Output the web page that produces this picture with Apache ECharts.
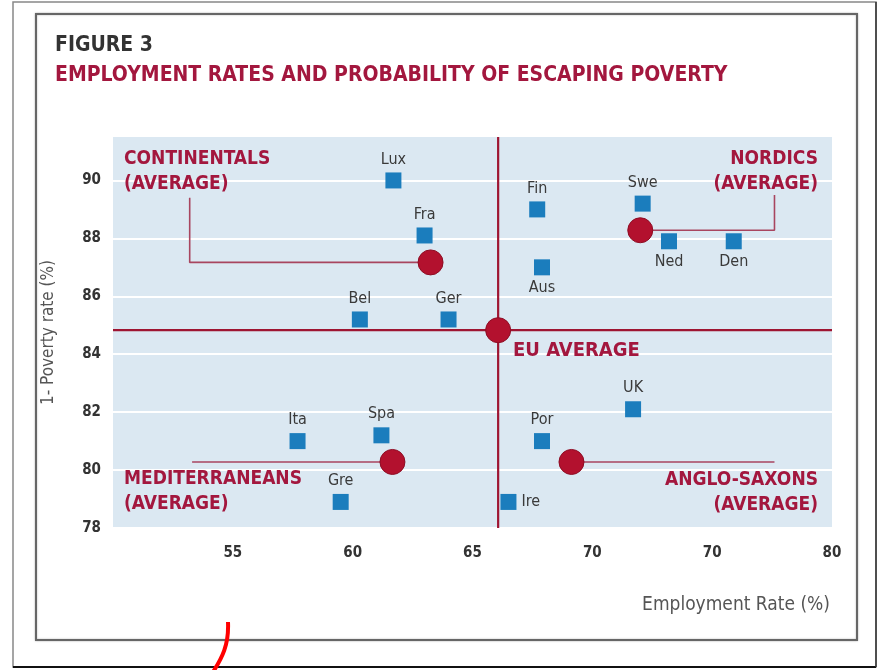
<!DOCTYPE html>
<html><head><meta charset="utf-8">
<script src="https://cdn.jsdelivr.net/npm/echarts@6/dist/echarts.min.js"></script>
<style>html,body{margin:0;padding:0;background:#fff}#c{width:883px;height:670px}</style>
</head><body><div id="c"></div>
<script>
// ---- data ----
const countries = ['Lux','Fra','Bel','Ger','Fin','Aus','Swe','Ned','Den','UK','Por','Ire','Ita','Spa','Gre'];
const employment = [61.7,63.0,60.3,64.0,67.7,67.9,72.1,73.2,75.9,71.7,67.9,66.5,57.7,61.2,59.5];
const povertyEscape = [90.0,88.1,85.2,85.2,89.0,87.0,89.2,87.9,87.9,82.1,81.0,78.9,81.0,81.2,78.9];
const groups = ['CONTINENTALS','NORDICS','MEDITERRANEANS','ANGLO-SAXONS'];
const groupEmployment = [63.25,72.0,61.66,69.13];
const groupPoverty = [87.17,88.28,80.28,80.28];
const euEmployment = 66.07;
const euPoverty = 84.83;
const xTickValues = [55,60,65,70,75,80];
const xTickLabels = ['55','60','65','70','70','80'];
const yTickLabels = ['78','80','82','84','86','88','90'];
// annotation connector elbows (data coords)
const connectorX = [53.2, 77.6, 53.3, 77.6];
const connectorTopY = [89.4, 89.5, null, null];

// ---- style ----
const labelPos = {Aus:'bottom', Ned:'bottom', Den:'bottom', Ire:'right'};
const RED = '#a3173e';
const FONT = '"DejaVu Sans Condensed", "DejaVu Sans", sans-serif';

const chart = echarts.init(document.getElementById('c'));

const countryData = countries.map((n,i)=>({
  name:n, value:[employment[i], povertyEscape[i]],
  label:{position: labelPos[n] || 'top'}
}));
const groupData = groups.map((g,i)=>({name:g, value:[groupEmployment[i], groupPoverty[i]]}));

const connectorSeries = groups.map((g,i)=>{
  const pts = [[groupEmployment[i], groupPoverty[i]],[connectorX[i], groupPoverty[i]]];
  if (connectorTopY[i] != null) pts.push([connectorX[i], connectorTopY[i]]);
  return {type:'line', data:pts, symbol:'none', silent:true, z:2,
    lineStyle:{color:'#a8455f', width:1.6}};
});

function gText(text, x, y, opts){
  return Object.assign({type:'text', x:x, y:y, z:100, silent:true, style:Object.assign({
    text:text, font:'bold 19px '+FONT, fill:RED, textAlign:'left', textVerticalAlign:'top', lineHeight:25
  }, opts||{})});
}

chart.setOption({
  animation:false,
  backgroundColor:'#fff',
  grid:{left:113, right:51, top:137, bottom:142, show:true, backgroundColor:'#dbe8f2', borderWidth:0},
  xAxis:{type:'value', min:50, max:80, interval:5,
    axisLine:{show:false}, axisTick:{show:false}, splitLine:{show:false},
    axisLabel:{margin:18, color:'#333', fontFamily:FONT, fontWeight:'bold', fontSize:15, showMinLabel:false,
      formatter:v=>{const k=xTickValues.indexOf(v); return k<0?'':xTickLabels[k];}}
  },
  yAxis:{type:'value', min:78, max:91.5, interval:2,
    name:'1- Poverty rate (%)', nameLocation:'middle', nameGap:56,
    nameTextStyle:{color:'#555', fontFamily:FONT, fontSize:17},
    axisLine:{show:false}, axisTick:{show:false},
    splitLine:{show:true, showMaxLine:false, lineStyle:{color:'#ffffff', width:2}},
    axisLabel:{margin:12, color:'#333', fontFamily:FONT, fontWeight:'bold', fontSize:15, showMaxLabel:false,
      formatter:v=>{const k=(v-78)/2; return Number.isInteger(k)&&yTickLabels[k]?yTickLabels[k]:'';}}
  },
  series:[
    {type:'line', data:[[50,euPoverty],[80,euPoverty]], symbol:'none', silent:true, z:3,
      lineStyle:{color:'#9e1532', width:2.2}},
    {type:'line', data:[[euEmployment,78],[euEmployment,91.5]], symbol:'none', silent:true, z:3,
      lineStyle:{color:'#9e1532', width:2.2}},
    ...connectorSeries,
    {type:'scatter', data:countryData, symbol:'rect', symbolSize:16, z:5,
      itemStyle:{color:'#1b7dbd', opacity:1},
      label:{show:true, formatter:'{b}', color:'#3a3a3a', fontFamily:FONT, fontSize:16, distance:5}},
    {type:'scatter', data:groupData, symbol:'circle', symbolSize:25, z:6,
      itemStyle:{color:'#b3112e', borderColor:'#8e0d24', borderWidth:1, opacity:1}},
    {type:'scatter', data:[[euEmployment, euPoverty]], symbol:'circle', symbolSize:25, z:6,
      itemStyle:{color:'#b3112e', borderColor:'#8e0d24', borderWidth:1, opacity:1}}
  ],
  graphic:[
    {type:'rect', shape:{x:13, y:2, width:863, height:665}, silent:true, z:-1,
      style:{fill:'#fff', stroke:'#888', lineWidth:1.5}},
    {type:'line', shape:{x1:13, y1:667, x2:876, y2:667}, silent:true, style:{stroke:'#111', lineWidth:2}},
    {type:'line', shape:{x1:876, y1:2, x2:876, y2:667}, silent:true, style:{stroke:'#333', lineWidth:1.5}},
    {type:'rect', shape:{x:36, y:14, width:821, height:626}, silent:true, z:-1,
      style:{fill:'#fff', stroke:'#666', lineWidth:2, shadowBlur:2, shadowColor:'rgba(0,0,0,0.3)'}},
    gText('FIGURE 3', 55, 33, {font:'bold 21px '+FONT, fill:'#333'}),
    gText('EMPLOYMENT RATES AND PROBABILITY OF ESCAPING POVERTY', 55, 63, {font:'bold 21px '+FONT}),
    gText('CONTINENTALS\n(AVERAGE)', 124, 147),
    gText('NORDICS\n(AVERAGE)', 818, 147, {textAlign:'right'}),
    gText('MEDITERRANEANS\n(AVERAGE)', 124, 467),
    gText('ANGLO-SAXONS\n(AVERAGE)', 818, 468, {textAlign:'right'}),
    gText('EU AVERAGE', 513, 338, {font:'bold 20px '+FONT}),
    gText('Employment Rate (%)', 830, 593, {font:'19px '+FONT, fill:'#555', textAlign:'right'}),
    {type:'bezierCurve', shape:{x1:228, y1:622, cpx1:229, cpy1:645, cpx2:222, cpy2:658, x2:213, y2:672},
      silent:true, style:{stroke:'#ff0000', lineWidth:4, fill:null}}
  ]
});
</script></body></html>
